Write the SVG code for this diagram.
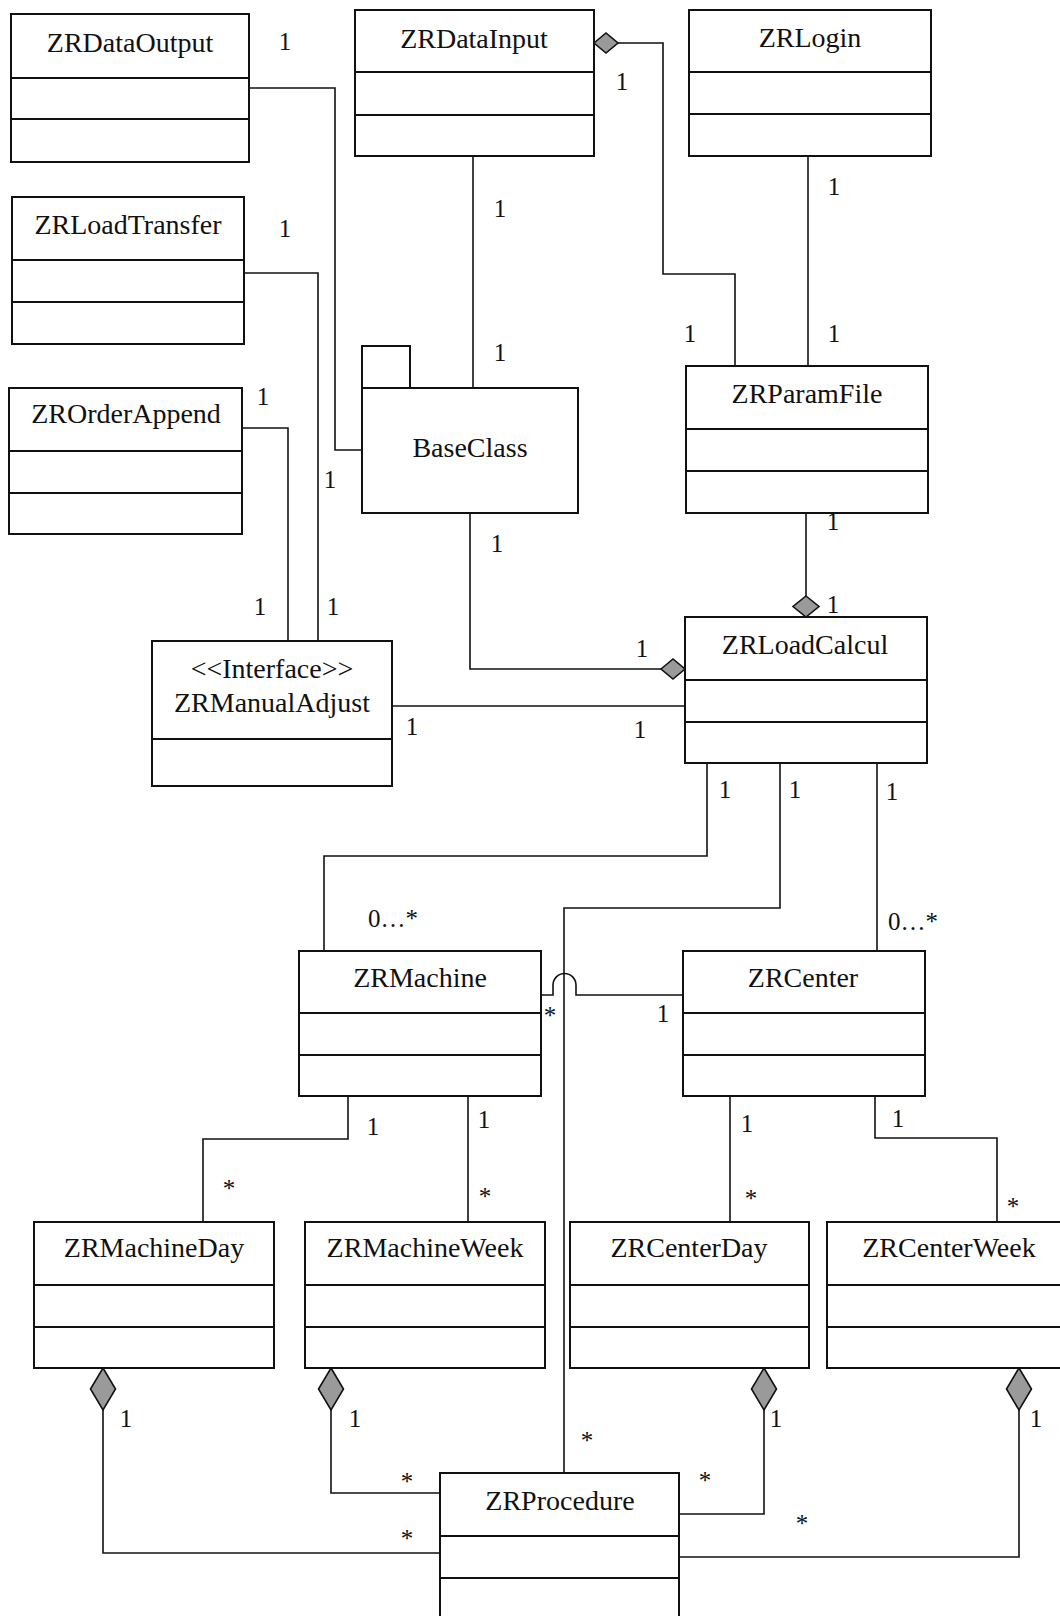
<svg xmlns="http://www.w3.org/2000/svg" width="1060" height="1616" viewBox="0 0 1060 1616">
<style>
.box{fill:#fff;stroke:#111;stroke-width:2}
.div{stroke:#111;stroke-width:1.8}
.ln{fill:none;stroke:#111;stroke-width:1.6}
.dm{fill:#9a9a9a;stroke:#111;stroke-width:1.6}
.nm{font-family:"Liberation Serif","Times New Roman",serif;font-size:28px;fill:#111;text-anchor:middle}
.m{font-family:"Liberation Serif","Times New Roman",serif;font-size:25px;fill:#111;text-anchor:middle}
.ms{font-family:"Liberation Serif","Times New Roman",serif;font-size:25px;fill:#111}
</style>
<rect width="1060" height="1616" fill="#fff"/>

<g id="connectors">
<path class="ln" d="M249 88 H335 V450 H362"/>
<path class="ln" d="M244 273 H318 V641"/>
<path class="ln" d="M242 428 H288 V641"/>
<path class="ln" d="M473 156 V388"/>
<path class="ln" d="M618 43 H663 V274 H735 V366"/>
<path class="dm" d="M594 43 L606 33 L618 43 L606 53 Z"/>
<path class="ln" d="M808 156 V366"/>
<path class="ln" d="M470 513 V669 H661"/>
<path class="dm" d="M661 669 L673 659 L685 669 L673 679 Z"/>
<path class="ln" d="M806 513 V596"/>
<path class="dm" d="M806 596 L819 606.5 L806 617 L793 606.5 Z"/>
<path class="ln" d="M392 706 H685"/>
<path class="ln" d="M707 763 V856 H324 V951"/>
<path class="ln" d="M780 763 V908 H564 V1473"/>
<path class="ln" d="M877 763 V951"/>
<path class="ln" d="M541 995 H553 V985 A11.5 11.5 0 0 1 576 985 V995 H683"/>
<path class="ln" d="M348 1096 V1139 H203 V1222"/>
<path class="ln" d="M468 1096 V1222"/>
<path class="ln" d="M730 1096 V1222"/>
<path class="ln" d="M875 1096 V1138 H997 V1222"/>
<path class="ln" d="M103 1410 V1553 H440"/>
<path class="dm" d="M103 1368 L115.5 1389 L103 1410 L90.5 1389 Z"/>
<path class="ln" d="M331 1410 V1493 H440"/>
<path class="dm" d="M331 1368 L343.5 1389 L331 1410 L318.5 1389 Z"/>
<path class="ln" d="M764 1410 V1514 H679"/>
<path class="dm" d="M764 1368 L776.5 1389 L764 1410 L751.5 1389 Z"/>
<path class="ln" d="M1019 1410 V1557 H679"/>
<path class="dm" d="M1019 1368 L1031.5 1389 L1019 1410 L1006.5 1389 Z"/>

<text class="m" x="285" y="50">1</text>
<text class="m" x="285" y="237">1</text>
<text class="m" x="622" y="90">1</text>
<text class="m" x="500" y="217">1</text>
<text class="m" x="500" y="361">1</text>
<text class="m" x="690" y="342">1</text>
<text class="m" x="834" y="195">1</text>
<text class="m" x="834" y="342">1</text>
<text class="m" x="263" y="405">1</text>
<text class="m" x="330" y="488">1</text>
<text class="m" x="260" y="615">1</text>
<text class="m" x="333" y="615">1</text>
<text class="m" x="497" y="552">1</text>
<text class="m" x="642" y="657">1</text>
<text class="m" x="412" y="735">1</text>
<text class="m" x="640" y="738">1</text>
<text class="m" x="833" y="530">1</text>
<text class="m" x="833" y="613">1</text>
<text class="m" x="725" y="798">1</text>
<text class="m" x="795" y="798">1</text>
<text class="m" x="892" y="800">1</text>
<text class="m" x="663" y="1022">1</text>
<text class="m" x="373" y="1135">1</text>
<text class="m" x="484" y="1128">1</text>
<text class="m" x="747" y="1132">1</text>
<text class="m" x="898" y="1127">1</text>
<text class="m" x="126" y="1427">1</text>
<text class="m" x="355" y="1427">1</text>
<text class="m" x="776" y="1427">1</text>
<text class="m" x="1036" y="1427">1</text>
<text class="m" x="550" y="1024">*</text>
<text class="m" x="229" y="1197">*</text>
<text class="m" x="485" y="1205">*</text>
<text class="m" x="751" y="1207">*</text>
<text class="m" x="1013" y="1215">*</text>
<text class="m" x="587" y="1449">*</text>
<text class="m" x="705" y="1489">*</text>
<text class="m" x="802" y="1532">*</text>
<text class="m" x="407" y="1490">*</text>
<text class="m" x="407" y="1547">*</text>
<text class="ms" x="368" y="927">0…*</text>
<text class="ms" x="888" y="930">0…*</text>
</g>

<g id="ZRDataOutput">
<rect class="box" x="11" y="14" width="238" height="148"/>
<line class="div" x1="11" y1="78" x2="249" y2="78"/>
<line class="div" x1="11" y1="119" x2="249" y2="119"/>
<text class="nm" x="130" y="52">ZRDataOutput</text>
</g>
<g id="ZRDataInput">
<rect class="box" x="355" y="10" width="239" height="146"/>
<line class="div" x1="355" y1="72" x2="594" y2="72"/>
<line class="div" x1="355" y1="115" x2="594" y2="115"/>
<text class="nm" x="474" y="48">ZRDataInput</text>
</g>
<g id="ZRLogin">
<rect class="box" x="689" y="10" width="242" height="146"/>
<line class="div" x1="689" y1="72" x2="931" y2="72"/>
<line class="div" x1="689" y1="114" x2="931" y2="114"/>
<text class="nm" x="810" y="47">ZRLogin</text>
</g>
<g id="ZRLoadTransfer">
<rect class="box" x="12" y="197" width="232" height="147"/>
<line class="div" x1="12" y1="260" x2="244" y2="260"/>
<line class="div" x1="12" y1="302" x2="244" y2="302"/>
<text class="nm" x="128" y="234">ZRLoadTransfer</text>
</g>
<g id="ZROrderAppend">
<rect class="box" x="9" y="388" width="233" height="146"/>
<line class="div" x1="9" y1="451" x2="242" y2="451"/>
<line class="div" x1="9" y1="493" x2="242" y2="493"/>
<text class="nm" x="126" y="423">ZROrderAppend</text>
</g>
<g id="BaseClass">
<rect class="box" x="362" y="346" width="48" height="42"/>
<rect class="box" x="362" y="388" width="216" height="125"/>
<text class="nm" x="470" y="457">BaseClass</text>
</g>
<g id="ZRParamFile">
<rect class="box" x="686" y="366" width="242" height="147"/>
<line class="div" x1="686" y1="429" x2="928" y2="429"/>
<line class="div" x1="686" y1="471" x2="928" y2="471"/>
<text class="nm" x="807" y="403">ZRParamFile</text>
</g>
<g id="ZRLoadCalcul">
<rect class="box" x="685" y="617" width="242" height="146"/>
<line class="div" x1="685" y1="680" x2="927" y2="680"/>
<line class="div" x1="685" y1="722" x2="927" y2="722"/>
<text class="nm" x="805" y="654">ZRLoadCalcul</text>
</g>
<g id="ZRManualAdjust">
<rect class="box" x="152" y="641" width="240" height="145"/>
<line class="div" x1="152" y1="739" x2="392" y2="739"/>
<text class="nm" x="272" y="678">&lt;&lt;Interface&gt;&gt;</text>
<text class="nm" x="272" y="712">ZRManualAdjust</text>
</g>
<g id="ZRMachine">
<rect class="box" x="299" y="951" width="242" height="145"/>
<line class="div" x1="299" y1="1013" x2="541" y2="1013"/>
<line class="div" x1="299" y1="1055" x2="541" y2="1055"/>
<text class="nm" x="420" y="987">ZRMachine</text>
</g>
<g id="ZRCenter">
<rect class="box" x="683" y="951" width="242" height="145"/>
<line class="div" x1="683" y1="1013" x2="925" y2="1013"/>
<line class="div" x1="683" y1="1055" x2="925" y2="1055"/>
<text class="nm" x="803" y="987">ZRCenter</text>
</g>
<g id="ZRMachineDay">
<rect class="box" x="34" y="1222" width="240" height="146"/>
<line class="div" x1="34" y1="1285" x2="274" y2="1285"/>
<line class="div" x1="34" y1="1327" x2="274" y2="1327"/>
<text class="nm" x="154" y="1257">ZRMachineDay</text>
</g>
<g id="ZRMachineWeek">
<rect class="box" x="305" y="1222" width="240" height="146"/>
<line class="div" x1="305" y1="1285" x2="545" y2="1285"/>
<line class="div" x1="305" y1="1327" x2="545" y2="1327"/>
<text class="nm" x="425" y="1257">ZRMachineWeek</text>
</g>
<g id="ZRCenterDay">
<rect class="box" x="570" y="1222" width="239" height="146"/>
<line class="div" x1="570" y1="1285" x2="809" y2="1285"/>
<line class="div" x1="570" y1="1327" x2="809" y2="1327"/>
<text class="nm" x="689" y="1257">ZRCenterDay</text>
</g>
<g id="ZRCenterWeek">
<rect class="box" x="827" y="1222" width="242" height="146"/>
<line class="div" x1="827" y1="1285" x2="1069" y2="1285"/>
<line class="div" x1="827" y1="1327" x2="1069" y2="1327"/>
<text class="nm" x="949" y="1257">ZRCenterWeek</text>
</g>
<g id="ZRProcedure">
<rect class="box" x="440" y="1473" width="239" height="200"/>
<line class="div" x1="440" y1="1536" x2="679" y2="1536"/>
<line class="div" x1="440" y1="1578" x2="679" y2="1578"/>
<text class="nm" x="560" y="1510">ZRProcedure</text>
</g>
</svg>
